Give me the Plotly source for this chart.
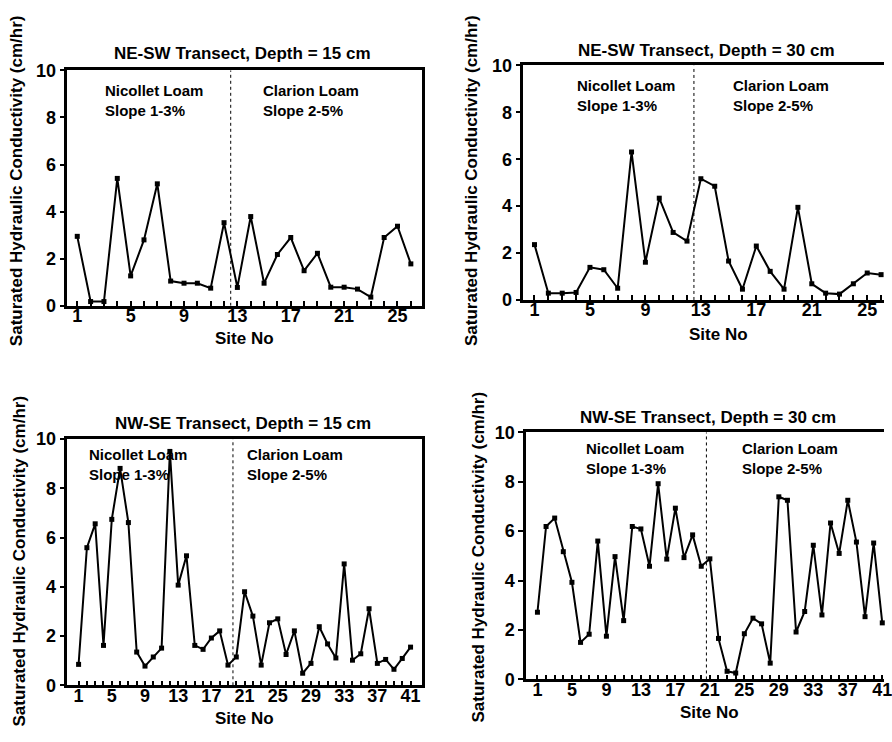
import plotly.graph_objects as go

W, H = 892, 742

# Saturated hydraulic conductivity (cm/hr) by site along each transect
ne_sw_15 = [2.95, 0.18, 0.18, 5.41, 1.27, 2.80, 5.18, 1.05, 0.96, 0.96, 0.75, 3.53, 0.78,
            3.79, 0.96, 2.18, 2.90, 1.49, 2.23, 0.79, 0.79, 0.71, 0.37, 2.90, 3.38, 1.78]
ne_sw_30 = [2.36, 0.29, 0.29, 0.32, 1.39, 1.29, 0.50, 6.31, 1.61, 4.34, 2.88, 2.51, 5.17,
            4.85, 1.66, 0.46, 2.30, 1.22, 0.46, 3.95, 0.69, 0.29, 0.25, 0.69, 1.15, 1.08]
nw_se_15 = [0.85, 5.59, 6.56, 1.62, 6.74, 8.81, 6.61, 1.35, 0.78, 1.15, 1.51, 9.50, 4.07,
            5.26, 1.62, 1.46, 1.92, 2.21, 0.82, 1.15, 3.80, 2.81, 0.82, 2.54, 2.70, 1.25,
            2.21, 0.49, 0.89, 2.38, 1.68, 1.11, 4.93, 1.02, 1.28, 3.11, 0.89, 1.05, 0.65,
            1.09, 1.55]
nw_se_30 = [2.72, 6.19, 6.53, 5.17, 3.93, 1.50, 1.83, 5.60, 1.75, 4.97, 2.38, 6.19, 6.09,
            4.58, 7.92, 4.87, 6.93, 4.93, 5.85, 4.58, 4.88, 1.66, 0.33, 0.26, 1.85, 2.48,
            2.25, 0.66, 7.39, 7.25, 1.92, 2.75, 5.43, 2.61, 6.33, 5.10, 7.25, 5.56, 2.54,
            5.52, 2.29]

panel_titles = ["NE-SW Transect, Depth = 15 cm", "NE-SW Transect, Depth = 30 cm",
                "NW-SE Transect, Depth = 15 cm", "NW-SE Transect, Depth = 30 cm"]
soil_left = "Nicollet Loam<br>Slope 1-3%"
soil_right = "Clarion Loam<br>Slope 2-5%"
boundary_site = [12.5, 12.5, 19.6, 20.6]
y_ticks = [0, 2, 4, 6, 8, 10]
y_title = "Saturated Hydraulic Conductivity (cm/hr)"
x_title = "Site No"

FONT = "Liberation Sans, Arial, sans-serif"


def px(x):
    return x / W


def py(y):
    return 1 - y / H


# Panel layout in pixels: plot box, x range, text anchor positions
panels = [
    dict(data=ne_sw_15, box=(68, 426, 62, 304), xr=(0.26, 26.85), right_line=True,
         title=(245, 45), ytitle=(16, 175), xtitle=(247, 338),
         soil_l=(104, 93), soil_r=(263, 93)),
    dict(data=ne_sw_30, box=(528, 892, 57, 298), xr=(0.19, 26.21), right_line=False,
         title=(713, 42), ytitle=(476, 175), xtitle=(725, 333),
         soil_l=(580, 88), soil_r=(738, 88)),
    dict(data=nw_se_15, box=(68, 426, 441, 694), xr=(-0.35, 42.4), right_line=True,
         title=(245, 425), ytitle=(20, 566), xtitle=(247, 728),
         soil_l=(88, 467), soil_r=(247, 467)),
    dict(data=nw_se_30, box=(531, 892, 434, 688), xr=(-0.3, 41.2), right_line=False,
         title=(714, 419), ytitle=(483, 562), xtitle=(716, 722),
         soil_l=(589, 461), soil_r=(747, 461)),
]

fig = go.Figure()
annotations = []
shapes = []

for i, p in enumerate(panels):
    k = "" if i == 0 else str(i + 1)
    sites = list(range(1, len(p["data"]) + 1))
    fig.add_trace(go.Scatter(
        x=sites, y=p["data"], mode="lines+markers",
        line=dict(color="black", width=2),
        marker=dict(symbol="square", size=5, color="black"),
        xaxis="x" + k, yaxis="y" + k, showlegend=False, cliponaxis=False,
    ))
    x0, x1, y0, y1 = p["box"]
    tickvals = sites
    ticktext = [str(s) if (s - 1) % 4 == 0 else "" for s in sites]
    fig.update_layout(**{
        "xaxis" + k: dict(
            domain=[px(x0), px(x1)], range=list(p["xr"]), anchor="y" + k,
            tickvals=tickvals, ticktext=ticktext, ticks="inside", ticklen=5,
            tickwidth=1.5, tickcolor="black", showline=True, linewidth=2.5,
            linecolor="black", mirror=True, showgrid=False, zeroline=False,
            ticklabelstandoff=-8, ticklabeloverflow="allow",
            tickfont=dict(family=FONT, size=18, color="black", weight="bold"),
        ),
        "yaxis" + k: dict(
            domain=[py(y1), py(y0)], range=[0, 10], anchor="x" + k,
            tickvals=y_ticks, ticks="outside", ticklen=5, tickwidth=1.5,
            tickcolor="black", showline=True, linewidth=2.5, linecolor="black",
            mirror=p["right_line"], showgrid=False, zeroline=False,
            tickfont=dict(family=FONT, size=18, color="black", weight="bold"),
        ),
    })
    # soil boundary
    shapes.append(dict(type="line", xref="x" + k, yref="y" + k,
                       x0=boundary_site[i], x1=boundary_site[i], y0=0, y1=10,
                       line=dict(color="black", width=1, dash="dot")))
    bold = dict(family=FONT, color="black", weight="bold")
    annotations += [
        dict(text=panel_titles[i], x=px(p["title"][0]), y=py(p["title"][1]),
             xref="paper", yref="paper", showarrow=False, xanchor="center",
             yanchor="middle", font=dict(size=17, **bold)),
        dict(text=y_title, x=px(p["ytitle"][0]), y=py(p["ytitle"][1]),
             xref="paper", yref="paper", showarrow=False, textangle=-90,
             xanchor="center", yanchor="middle", font=dict(size=17, **bold)),
        dict(text=x_title, x=px(p["xtitle"][0]), y=py(p["xtitle"][1]),
             xref="paper", yref="paper", showarrow=False, xanchor="center",
             yanchor="middle", font=dict(size=17, **bold)),
        dict(text=soil_left, x=px(p["soil_l"][0]), y=py(p["soil_l"][1]),
             xref="paper", yref="paper", showarrow=False, xanchor="left",
             yanchor="middle", align="left", font=dict(size=15, **bold)),
        dict(text=soil_right, x=px(p["soil_r"][0]), y=py(p["soil_r"][1]),
             xref="paper", yref="paper", showarrow=False, xanchor="left",
             yanchor="middle", align="left", font=dict(size=15, **bold)),
    ]

fig.update_layout(
    width=W, height=H, margin=dict(l=0, r=0, t=0, b=0),
    paper_bgcolor="white", plot_bgcolor="white",
    annotations=annotations, shapes=shapes,
)

fig.write_html("out.html")
